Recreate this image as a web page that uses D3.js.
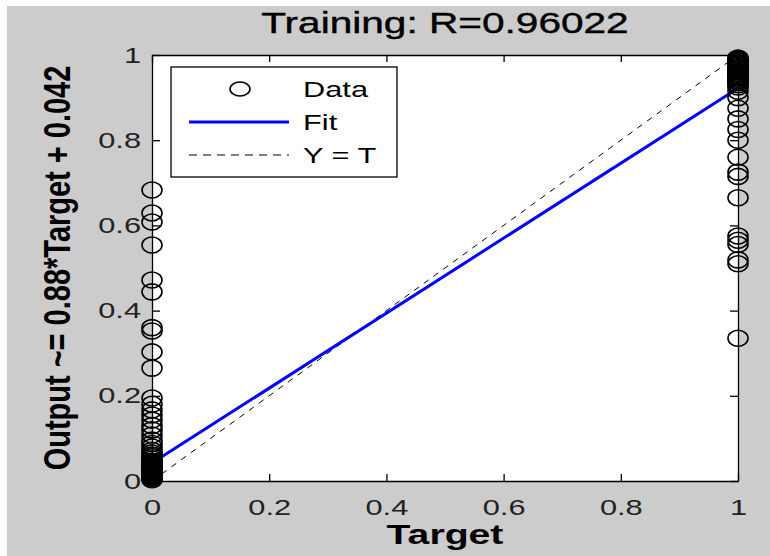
<!DOCTYPE html>
<html><head><meta charset="utf-8">
<script src="https://cdn.jsdelivr.net/npm/d3@7"></script>
<style>body{margin:0;background:#fff}svg{display:block}text{font-family:"Liberation Sans",Arial,sans-serif}</style>
</head><body><svg id="c" width="770" height="556"></svg>
<script>
const titleText = "Training: R=0.96022";
const xLabelText = "Target";
const yLabelText = "Output ~= 0.88*Target + 0.042";
const xTicks = [0, 0.2, 0.4, 0.6, 0.8, 1];
const yTicks = [0, 0.2, 0.4, 0.6, 0.8, 1];
const tickLabels = ["0", "0.2", "0.4", "0.6", "0.8", "1"];
// outputs for samples whose target is 0
const outputsTarget0 = [0.683, 0.629, 0.608, 0.554, 0.472, 0.444, 0.36, 0.352, 0.303, 0.265,
  0.195, 0.18, 0.167, 0.155, 0.143, 0.13, 0.12, 0.108, 0.096, 0.088, 0.08, 0.072, 0.066, 0.061,
  0.057, 0.052, 0.047, 0.045, 0.043, 0.041, 0.039, 0.037, 0.035, 0.033, 0.031, 0.029, 0.027,
  0.025, 0.023, 0.021, 0.019, 0.017, 0.015, 0.013, 0.011, 0.009, 0.008, 0.006, 0.005, 0.003];
// outputs for samples whose target is 1
const outputsTarget1 = [0.993, 0.991, 0.988, 0.986, 0.983, 0.981, 0.978, 0.976, 0.973, 0.971,
  0.968, 0.965, 0.962, 0.96, 0.957, 0.955, 0.952, 0.949, 0.946, 0.943, 0.94, 0.937, 0.935,
  0.93, 0.925, 0.915, 0.9, 0.875, 0.85, 0.825, 0.8, 0.76, 0.725, 0.715, 0.665, 0.575, 0.565,
  0.555, 0.519, 0.51, 0.335];
const fitSlope = 0.88, fitIntercept = 0.042;
const legendLabels = ["Data", "Fit", "Y = T"];

const W = 770, H = 556;
const m = {left: 152, right: 738, top: 55, bottom: 481};
const SX = 1.4; // horizontal stretch of the original rendering

const svg = d3.select("#c");
svg.append("rect").attr("width", W).attr("height", H).attr("fill", "#fff");
svg.append("rect").attr("x", 7).attr("y", 6).attr("width", W - 7).attr("height", H - 6).attr("fill", "#cccccc");

const x = d3.scaleLinear().domain([0, 1]).range([m.left, m.right]);
const y = d3.scaleLinear().domain([0, 1]).range([m.bottom, m.top]);

svg.append("rect").attr("x", m.left).attr("y", m.top)
  .attr("width", m.right - m.left).attr("height", m.bottom - m.top).attr("fill", "#fff");

const fmt = d => tickLabels[xTicks.indexOf(d)];

const gx = svg.append("g").attr("transform", `translate(0,${m.bottom})`)
  .call(d3.axisBottom(x).tickValues(xTicks).tickFormat(fmt).tickSizeInner(-7).tickSizeOuter(0).tickPadding(18));
const gy = svg.append("g").attr("transform", `translate(${m.left},0)`)
  .call(d3.axisLeft(y).tickValues(yTicks).tickFormat(fmt).tickSizeInner(-8).tickSizeOuter(0).tickPadding(11));
const gt = svg.append("g").attr("transform", `translate(0,${m.top})`)
  .call(d3.axisTop(x).tickValues(xTicks).tickFormat("").tickSizeInner(-7).tickSizeOuter(0));
const gr = svg.append("g").attr("transform", `translate(${m.right},0)`)
  .call(d3.axisRight(y).tickValues(yTicks).tickFormat("").tickSizeInner(-8).tickSizeOuter(0));

[gx, gy, gt, gr].forEach(g => {
  g.select(".domain").attr("stroke", "#000").attr("stroke-width", 1.3);
  g.selectAll(".tick line").attr("stroke", "#000").attr("stroke-width", 1.3);
  g.selectAll("text").attr("font-size", 22).attr("fill", "#222")
    .attr("font-family", '"Liberation Sans",Arial,sans-serif');
});
gx.selectAll(".tick text").attr("transform", `scale(${SX},1)`);
gy.selectAll(".tick text").attr("x", -11 / SX).attr("transform", `scale(${SX},1)`);

// lines
svg.append("line")
  .attr("x1", x(0)).attr("y1", y(0)).attr("x2", x(1)).attr("y2", y(1))
  .attr("stroke", "#000").attr("stroke-width", 1).attr("stroke-dasharray", "6,6");
svg.append("line")
  .attr("x1", x(0)).attr("y1", y(fitIntercept)).attr("x2", x(1)).attr("y2", y(fitSlope + fitIntercept))
  .attr("stroke", "#0000ff").attr("stroke-width", 3);

// data
const pts = outputsTarget0.map(o => ({t: 0, o})).concat(outputsTarget1.map(o => ({t: 1, o})));
svg.append("g").selectAll("ellipse").data(pts).join("ellipse")
  .attr("cx", d => x(d.t)).attr("cy", d => y(d.o)).attr("rx", 10).attr("ry", 8)
  .attr("fill", "none").attr("stroke", "#000").attr("stroke-width", 1.6);

// title & labels
function stretchedText(px, py, txt, size, weight) {
  return svg.append("text").attr("transform", `translate(${px},${py}) scale(${SX},1)`)
    .attr("text-anchor", "middle").attr("font-size", size).attr("font-weight", weight)
    .attr("fill", "#000").text(txt);
}
stretchedText((m.left + m.right) / 2, 33, titleText, 29, "normal").attr("stroke", "#000").attr("stroke-width", 0.4);
stretchedText((m.left + m.right) / 2, 544, xLabelText, 28, "bold");
svg.append("text")
  .attr("transform", `translate(70,${(m.top + m.bottom) / 2}) scale(1.3,1) rotate(-90)`)
  .attr("text-anchor", "middle").attr("font-size", 29).attr("font-weight", "bold")
  .attr("fill", "#000").text(yLabelText);

// legend
const lg = svg.append("g");
lg.append("rect").attr("x", 171).attr("y", 67).attr("width", 226).attr("height", 110)
  .attr("fill", "#fff").attr("stroke", "#000").attr("stroke-width", 1.3);
const rowsY = [89, 122, 155];
lg.append("ellipse").attr("cx", 240).attr("cy", rowsY[0]).attr("rx", 10).attr("ry", 7)
  .attr("fill", "none").attr("stroke", "#000").attr("stroke-width", 1.6);
lg.append("line").attr("x1", 189).attr("x2", 289).attr("y1", rowsY[1]).attr("y2", rowsY[1])
  .attr("stroke", "#0000ff").attr("stroke-width", 3);
lg.append("line").attr("x1", 189).attr("x2", 289).attr("y1", rowsY[2]).attr("y2", rowsY[2])
  .attr("stroke", "#000").attr("stroke-width", 1).attr("stroke-dasharray", "8,6");
legendLabels.forEach((t, i) => {
  lg.append("text").attr("transform", `translate(303,${rowsY[i] + 8}) scale(${SX},1)`)
    .attr("font-size", 22).attr("fill", "#000").text(t);
});
</script></body></html>
